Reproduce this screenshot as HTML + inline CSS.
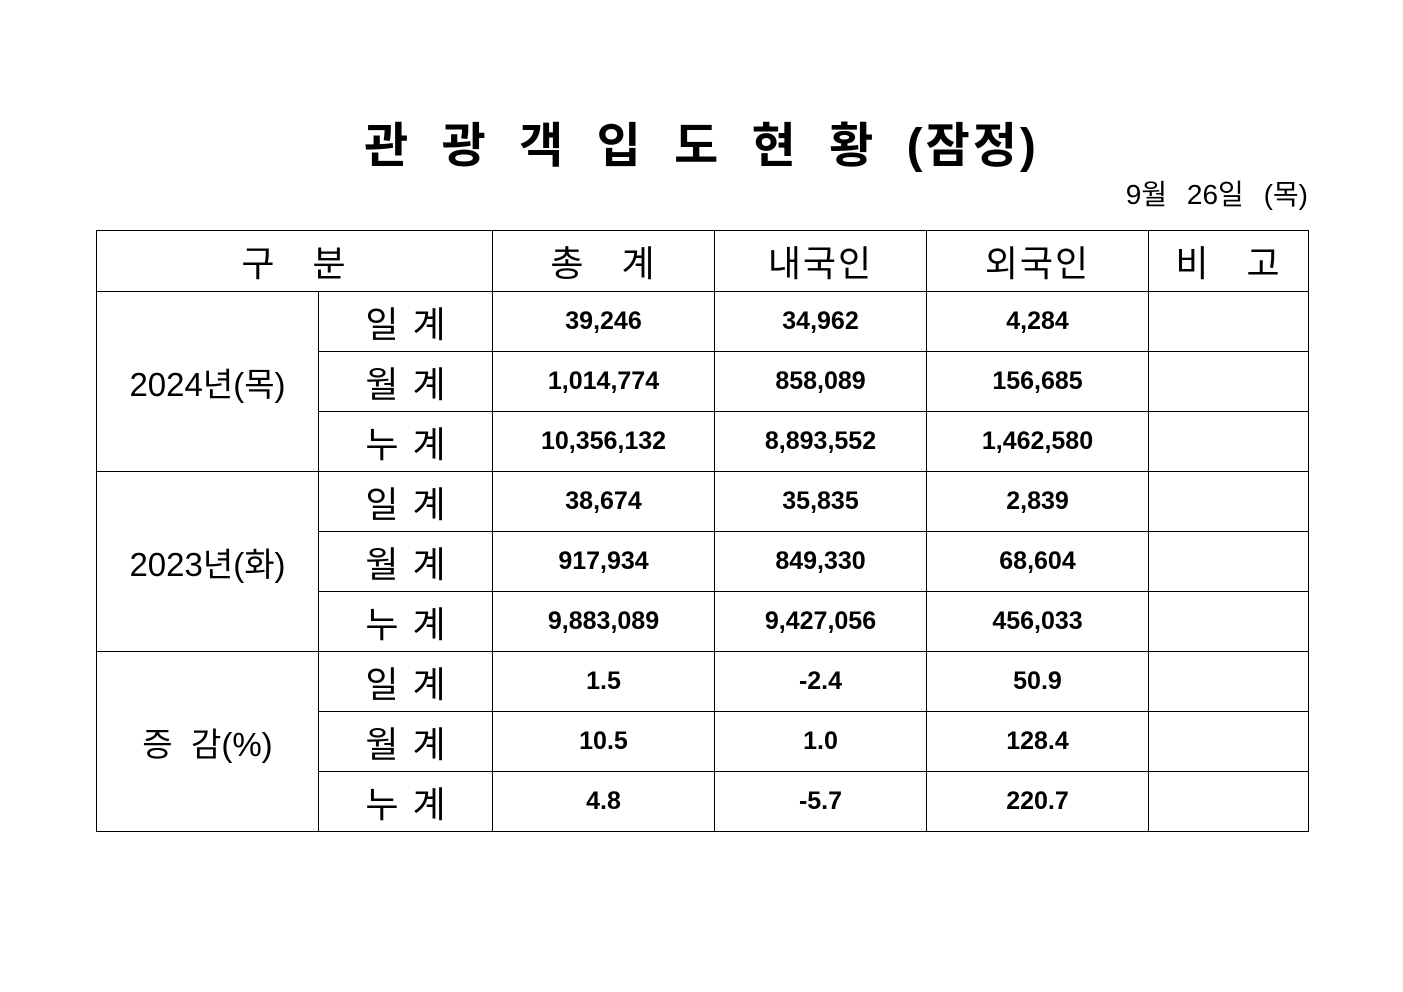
<!DOCTYPE html>
<html><head><meta charset="utf-8"><style>
body{margin:0;width:1403px;height:992px;background:#fff;position:relative;font-family:"Liberation Sans","Noto Sans CJK KR","NanumGothic",sans-serif;color:#000;overflow:hidden}
.title{position:absolute;left:0;width:1403px;top:115px;text-align:center;font-size:48px;font-weight:bold;letter-spacing:3px;word-spacing:14px;line-height:64px}
.date{position:absolute;right:95px;top:177px;font-size:28px;line-height:36px;word-spacing:12px}
table{position:absolute;left:96px;top:230px;border-collapse:collapse;table-layout:fixed}
td{border:1.3px solid #000;text-align:center;padding:0;height:59px}
.h{font-size:36px;letter-spacing:2px}
.l{font-size:33px}
.s{font-size:36px;letter-spacing:14px;padding-left:14px}
.n{font-size:25px;font-weight:bold}
</style></head><body>
<div class="title">관 광 객 입 도 현 황 (잠정)</div>
<div class="date">9월 26일 (목)</div>
<table>
<colgroup><col style="width:222px"><col style="width:174px"><col style="width:222px"><col style="width:212px"><col style="width:222px"><col style="width:160px"></colgroup>
<tr style="height:61px"><td colspan="2" class="h">구&nbsp;&nbsp;&nbsp;분</td><td class="h">총&nbsp;&nbsp;&nbsp;계</td><td class="h">내국인</td><td class="h">외국인</td><td class="h">비&nbsp;&nbsp;&nbsp;고</td></tr>
<tr><td rowspan="3" class="l">2024년(목)</td><td class="s">일계</td><td class="n">39,246</td><td class="n">34,962</td><td class="n">4,284</td><td></td></tr>
<tr><td class="s">월계</td><td class="n">1,014,774</td><td class="n">858,089</td><td class="n">156,685</td><td></td></tr>
<tr><td class="s">누계</td><td class="n">10,356,132</td><td class="n">8,893,552</td><td class="n">1,462,580</td><td></td></tr>
<tr><td rowspan="3" class="l">2023년(화)</td><td class="s">일계</td><td class="n">38,674</td><td class="n">35,835</td><td class="n">2,839</td><td></td></tr>
<tr><td class="s">월계</td><td class="n">917,934</td><td class="n">849,330</td><td class="n">68,604</td><td></td></tr>
<tr><td class="s">누계</td><td class="n">9,883,089</td><td class="n">9,427,056</td><td class="n">456,033</td><td></td></tr>
<tr><td rowspan="3" class="l">증&nbsp;&nbsp;감(%)</td><td class="s">일계</td><td class="n">1.5</td><td class="n">-2.4</td><td class="n">50.9</td><td></td></tr>
<tr><td class="s">월계</td><td class="n">10.5</td><td class="n">1.0</td><td class="n">128.4</td><td></td></tr>
<tr><td class="s">누계</td><td class="n">4.8</td><td class="n">-5.7</td><td class="n">220.7</td><td></td></tr>
</table>
</body></html>
